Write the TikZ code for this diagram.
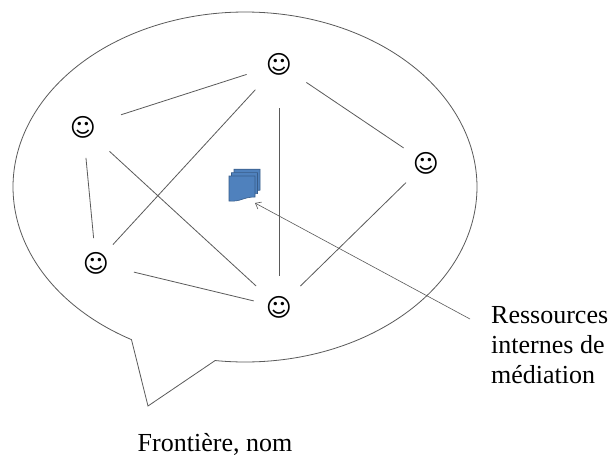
\documentclass[tikz,border=0pt]{standalone}
\usepackage{fontspec}
\setmainfont{Liberation Serif}
\newfontfamily\symfont{DejaVu Sans}
\usetikzlibrary{arrows.meta}
\definecolor{linegray}{RGB}{90,90,90}
\definecolor{docfill}{RGB}{79,129,189}
\definecolor{docline}{RGB}{56,93,138}
\tikzset{
  smiley/.style={inner sep=0pt, font=\symfont\fontsize{25}{25}\selectfont},
  conn/.style={draw=linegray, line width=0.8pt},
  txt/.style={inner sep=0pt, font=\fontsize{26}{30.3}\selectfont, align=left},
  docpage/.style={fill=docfill, draw=docline, line width=0.6pt}
}
\begin{document}
\begin{tikzpicture}[x=1pt,y=-1pt]
\useasboundingbox (0,0) rectangle (611,456);
\fill[white] (0,0) rectangle (611,456);
% callout boundary
\draw[conn] plot[domain=119.3:457.4, samples=240] ({245+232*cos(\x)},{187+175*sin(\x)}) -- (148,406) -- cycle;
% people
\node[smiley] (T) at (279,64) {☺};
\node[smiley] (L) at (83,127) {☺};
\node[smiley] (R) at (426,163) {☺};
\node[smiley] (BL) at (96,263) {☺};
\node[smiley] (B) at (279,307) {☺};
% links
\draw[conn, shorten <=34pt, shorten >=40pt] (T.center) -- (L.center);
\draw[conn, shorten <=35pt, shorten >=25pt] (T.center) -- (BL.center);
\draw[conn, shorten <=44pt, shorten >=31pt] (T.center) -- (B.center);
\draw[conn, shorten <=33pt, shorten >=27pt] (T.center) -- (R.center);
\draw[conn, shorten <=31pt, shorten >=25pt] (L.center) -- (BL.center);
\draw[conn, shorten <=36pt, shorten >=31pt] (L.center) -- (B.center);
\draw[conn, shorten <=39pt, shorten >=26pt] (BL.center) -- (B.center);
\draw[conn, shorten <=28pt, shorten >=30pt] (R.center) -- (B.center);
% resources icon
\node[inner sep=0pt, minimum width=31pt, minimum height=33pt] (res) at (244.5,185) {};
\foreach \d in {2,1,0} {
  \begin{scope}[shift={(2.5*\d,-3.4*\d)}]
    \draw[docpage] (229,176) -- (255,176) -- (255,197) .. controls (243,197) and (241,202) .. (229,201) -- cycle;
  \end{scope}
}
% labels
\node[txt, anchor=base west] (reslbl) at (491,383.6) {Ressources\\internes de\\médiation};
\node[txt, anchor=base] (front) at (215,451) {Frontière, nom};
% arrow
\coordinate (as) at (470,319);
\coordinate (ae) at (255,203);
\draw[conn, line width=0.6pt, -{Straight Barb[length=5pt,width=8pt]}] (as) -- (ae);
\end{tikzpicture}
\end{document}
